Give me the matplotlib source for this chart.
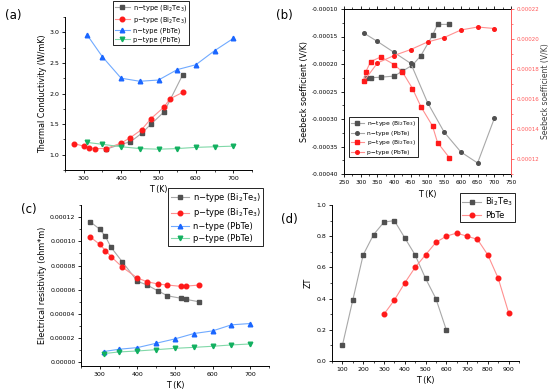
import matplotlib
matplotlib.use("Agg")
import matplotlib.pyplot as plt
from matplotlib.ticker import MultipleLocator, AutoMinorLocator

# ---------------- data ----------------
# (a) thermal conductivity
a_nbi_T = [360, 400, 425, 455, 480, 515, 565]
a_nbi_k = [1.09, 1.17, 1.21, 1.35, 1.50, 1.70, 2.31]
a_pbi_T = [275, 300, 315, 330, 360, 400, 425, 455, 480, 515, 530, 565]
a_pbi_k = [1.18, 1.14, 1.11, 1.10, 1.10, 1.19, 1.28, 1.41, 1.59, 1.78, 1.91, 2.02]
a_npb_T = [310, 350, 400, 450, 500, 550, 600, 650, 700]
a_npb_k = [2.95, 2.60, 2.25, 2.20, 2.22, 2.39, 2.47, 2.70, 2.90]
a_ppb_T = [310, 350, 400, 450, 500, 550, 600, 650, 700]
a_ppb_k = [1.20, 1.17, 1.13, 1.10, 1.09, 1.10, 1.12, 1.13, 1.14]

# (b) Seebeck coefficient
b_nbi_T = [315, 330, 360, 400, 425, 455, 480, 515, 530, 565]
b_nbi_S = [-0.000225, -0.000225, -0.000224, -0.000222, -0.000213, -0.000202,
           -0.000185, -0.000148, -0.000128, -0.000128]
b_npb_T = [310, 350, 400, 450, 500, 550, 600, 650, 700]
b_npb_S = [-0.000144, -0.000159, -0.000179, -0.000199, -0.000270, -0.000324,
           -0.000360, -0.000380, -0.000299]
b_pbi_T = [310, 315, 330, 360, 400, 425, 455, 480, 515, 530, 565]
b_pbi_S = [0.000172, 0.000178, 0.000185, 0.000188, 0.000183, 0.000178, 0.000167,
           0.000155, 0.000142, 0.000131, 0.000121]
b_ppb_T = [310, 350, 400, 450, 500, 550, 600, 650, 700]
b_ppb_S = [0.000172, 0.000184, 0.000189, 0.000193, 0.000198, 0.000201, 0.000206,
           0.000208, 0.000207]

# (c) electrical resistivity
c_bi_T = [275, 300, 315, 330, 360, 400, 425, 455, 480, 515, 530, 565]
c_nbi_r = [0.000116, 0.000110, 0.000104, 0.000095, 0.000083, 0.000067, 0.000064,
           0.000059, 0.000055, 0.000053, 0.000052, 0.000050]
c_pbi_r = [0.0001035, 0.0000974, 0.0000924, 0.0000874, 0.0000786, 0.0000697,
           0.0000667, 0.0000647, 0.0000639, 0.0000628, 0.0000630, 0.0000639]
c_pb_T = [310, 350, 400, 450, 500, 550, 600, 650, 700]
c_npb_r = [0.0000089, 0.0000108, 0.0000122, 0.0000158, 0.0000194, 0.0000238,
           0.0000260, 0.0000310, 0.0000321]
c_ppb_r = [0.0000072, 0.0000086, 0.0000094, 0.0000105, 0.0000116, 0.0000124,
           0.0000133, 0.0000144, 0.0000152]

# (d) ZT
d_bi_T = [100, 150, 200, 250, 300, 350, 400, 450, 500, 550, 600]
d_bi_zt = [0.10, 0.39, 0.68, 0.81, 0.89, 0.90, 0.79, 0.68, 0.53, 0.40, 0.20]
d_pb_T = [300, 350, 400, 450, 500, 550, 600, 650, 700, 750, 800, 850, 900]
d_pb_zt = [0.30, 0.39, 0.50, 0.60, 0.68, 0.76, 0.80, 0.82, 0.80, 0.78, 0.68, 0.53, 0.31]

lab_nbi = "n\u2212type (Bi$_2$Te$_3$)"
lab_pbi = "p\u2212type (Bi$_2$Te$_3$)"
lab_npb = "n\u2212type (PbTe)"
lab_ppb = "p\u2212type (PbTe)"

# ---------------- styles ----------------
GRAY_M, GRAY_L = "#505050", "#a8a8a8"
RED_M, RED_L = "#ff1a1a", "#ff9090"
BLUE_M, BLUE_L = "#1a66ff", "#70aaff"
GREEN_M, GREEN_L = "#12b060", "#80d8a8"
RED_AX = "#ff5a5a"

W, H = 550, 391
fig = plt.figure(figsize=(W / 100, H / 100), dpi=100)


def box(l, t, r, b):
    return [l / W, 1 - b / H, (r - l) / W, (b - t) / H]


TICK_FS = 4.5
LAB_FS = 5.8


def style(ax):
    for s in ["top", "right"]:
        ax.spines[s].set_visible(False)
    for s in ax.spines.values():
        s.set_linewidth(0.7)
    ax.tick_params(which="major", direction="out", length=2.5, width=0.6,
                   labelsize=TICK_FS, pad=1.5)
    ax.tick_params(which="minor", direction="out", length=1.5, width=0.5)
    ax.xaxis.set_minor_locator(AutoMinorLocator(2))
    ax.yaxis.set_minor_locator(AutoMinorLocator(2))


def series(ax, x, y, mc, lc, marker, ms, label):
    ax.plot(x, y, color=lc, lw=0.8, marker=marker, ms=ms, mfc=mc, mec=mc,
            label=label)


def legend(ax, l, t, fs, **kw):
    lg = ax.legend(loc="upper left", bbox_to_anchor=(l / W, 1 - t / H),
                   bbox_transform=fig.transFigure, fontsize=fs, fancybox=False,
                   edgecolor="black", borderaxespad=0, framealpha=1,
                   borderpad=0.3, labelspacing=0.35, handlelength=2.2,
                   handletextpad=0.5, **kw)
    lg.get_frame().set_linewidth(0.6)
    return lg


fmt5 = matplotlib.ticker.FuncFormatter(lambda v, p: f"{v:.5f}".replace("\u2212", "-"))

# ---------------- (a) ----------------
axa = fig.add_axes(box(65, 17, 252, 170))
style(axa)
series(axa, a_nbi_T, a_nbi_k, GRAY_M, GRAY_L, "s", 3, lab_nbi)
series(axa, a_pbi_T, a_pbi_k, RED_M, RED_L, "o", 3.3, lab_pbi)
series(axa, a_npb_T, a_npb_k, BLUE_M, BLUE_L, "^", 3.3, lab_npb)
series(axa, a_ppb_T, a_ppb_k, GREEN_M, GREEN_L, "v", 3.3, lab_ppb)
axa.set_xlim(250, 750)
axa.set_ylim(0.75, 3.25)
axa.xaxis.set_major_locator(MultipleLocator(100))
axa.yaxis.set_major_locator(MultipleLocator(0.5))
axa.set_xlabel("T (K)", fontsize=LAB_FS, labelpad=3)
axa.set_ylabel("Thermal Conductivity (W/mK)", fontsize=LAB_FS, labelpad=2)
legend(axa, 113, 1, 4.8)
fig.text(5 / W, 1 - 15 / H, "(a)", fontsize=8.5, va="center", ha="left")

# ---------------- (b) ----------------
axb = fig.add_axes(box(344, 9, 511, 174))
for s in axb.spines.values():
    s.set_linewidth(0.7)
axb.spines["right"].set_visible(False)
axb.tick_params(which="major", direction="out", length=2.5, width=0.6,
                labelsize=TICK_FS - 0.3, pad=1.5)
axb.tick_params(which="minor", direction="out", length=1.5, width=0.5)
axb.tick_params(axis="x", which="both", top=True)
axb.xaxis.set_minor_locator(AutoMinorLocator(2))
axb.yaxis.set_minor_locator(AutoMinorLocator(2))
l1, = axb.plot(b_nbi_T, b_nbi_S, color=GRAY_L, lw=0.8, marker="s", ms=2.6,
               mfc=GRAY_M, mec=GRAY_M, label=lab_nbi)
l2, = axb.plot(b_npb_T, b_npb_S, color=GRAY_L, lw=0.8, marker="o", ms=2.6,
               mfc=GRAY_M, mec=GRAY_M, label=lab_npb)
axb.set_xlim(250, 750)
axb.set_ylim(-0.0004, -0.0001)
axb.xaxis.set_major_locator(MultipleLocator(50))
axb.yaxis.set_major_locator(MultipleLocator(0.00005))
axb.yaxis.set_major_formatter(fmt5)
axb.set_xlabel("T (K)", fontsize=LAB_FS, labelpad=4)
axb.set_ylabel("Seebeck soefficient (V/K)", fontsize=LAB_FS, labelpad=2)

axb2 = axb.twinx()
axb2.spines["right"].set_color(RED_AX)
axb2.spines["right"].set_linewidth(0.7)
for s in ["left", "top", "bottom"]:
    axb2.spines[s].set_visible(False)
axb2.tick_params(which="major", direction="out", length=2.5, width=0.6,
                 labelsize=TICK_FS - 0.5, pad=1.2, colors=RED_AX)
axb2.tick_params(which="minor", direction="out", length=1.5, width=0.5, colors=RED_AX)
axb2.yaxis.set_minor_locator(AutoMinorLocator(2))
l3, = axb2.plot(b_pbi_T, b_pbi_S, color=RED_L, lw=0.8, marker="s", ms=2.6,
                mfc=RED_M, mec=RED_M, label=lab_pbi)
l4, = axb2.plot(b_ppb_T, b_ppb_S, color=RED_L, lw=0.8, marker="o", ms=2.6,
                mfc=RED_M, mec=RED_M, label=lab_ppb)
axb2.set_ylim(0.00011, 0.00022)
axb2.yaxis.set_major_locator(MultipleLocator(0.00002))
axb2.yaxis.set_major_formatter(fmt5)
axb2.set_ylabel("Seebeck soefficient (V/K)", fontsize=LAB_FS - 0.3, labelpad=1.5,
                color="#404040")
lgb = axb2.legend([l1, l2, l3, l4], [lab_nbi, lab_npb, lab_pbi, lab_ppb],
                  loc="upper left", bbox_to_anchor=(349 / W, 1 - 117 / H),
                  bbox_transform=fig.transFigure, fontsize=4.3, fancybox=False,
                  edgecolor="black", borderaxespad=0, framealpha=1,
                  borderpad=0.3, labelspacing=0.45, handlelength=2.2,
                  handletextpad=0.5)
lgb.get_frame().set_linewidth(0.6)
fig.text(276 / W, 1 - 15 / H, "(b)", fontsize=8.5, va="center", ha="left")

# ---------------- (c) ----------------
axc = fig.add_axes(box(81, 205, 269, 366))
style(axc)
series(axc, c_bi_T, c_nbi_r, GRAY_M, GRAY_L, "s", 3, lab_nbi)
series(axc, c_bi_T, c_pbi_r, RED_M, RED_L, "o", 3.3, lab_pbi)
series(axc, c_pb_T, c_npb_r, BLUE_M, BLUE_L, "^", 3.3, lab_npb)
series(axc, c_pb_T, c_ppb_r, GREEN_M, GREEN_L, "v", 3.3, lab_ppb)
axc.set_xlim(250, 750)
axc.set_ylim(-0.000003, 0.00013)
axc.xaxis.set_major_locator(MultipleLocator(100))
axc.yaxis.set_major_locator(MultipleLocator(0.00002))
axc.yaxis.set_major_formatter(fmt5)
axc.set_xlabel("T (K)", fontsize=LAB_FS, labelpad=3)
axc.set_ylabel("Electrical resistivity (ohm*m)", fontsize=LAB_FS, labelpad=2)
legend(axc, 168, 188, 6.0)
fig.text(21 / W, 1 - 210 / H, "(c)", fontsize=8.5, va="center", ha="left")

# ---------------- (d) ----------------
axd = fig.add_axes(box(332, 205, 519, 361))
style(axd)
series(axd, d_bi_T, d_bi_zt, GRAY_M, GRAY_L, "s", 3, "Bi$_2$Te$_3$")
series(axd, d_pb_T, d_pb_zt, RED_M, RED_L, "o", 3.3, "PbTe")
axd.set_xlim(50, 950)
axd.set_ylim(0, 1.0)
axd.xaxis.set_major_locator(MultipleLocator(100))
axd.yaxis.set_major_locator(MultipleLocator(0.2))
axd.set_xlabel("T (K)", fontsize=LAB_FS, labelpad=3)
axd.set_ylabel("ZT", fontsize=LAB_FS, labelpad=3)
legend(axd, 460, 193, 6.0)
fig.text(281 / W, 1 - 220 / H, "(d)", fontsize=8.5, va="center", ha="left")

fig.savefig("out.png", dpi=100)
